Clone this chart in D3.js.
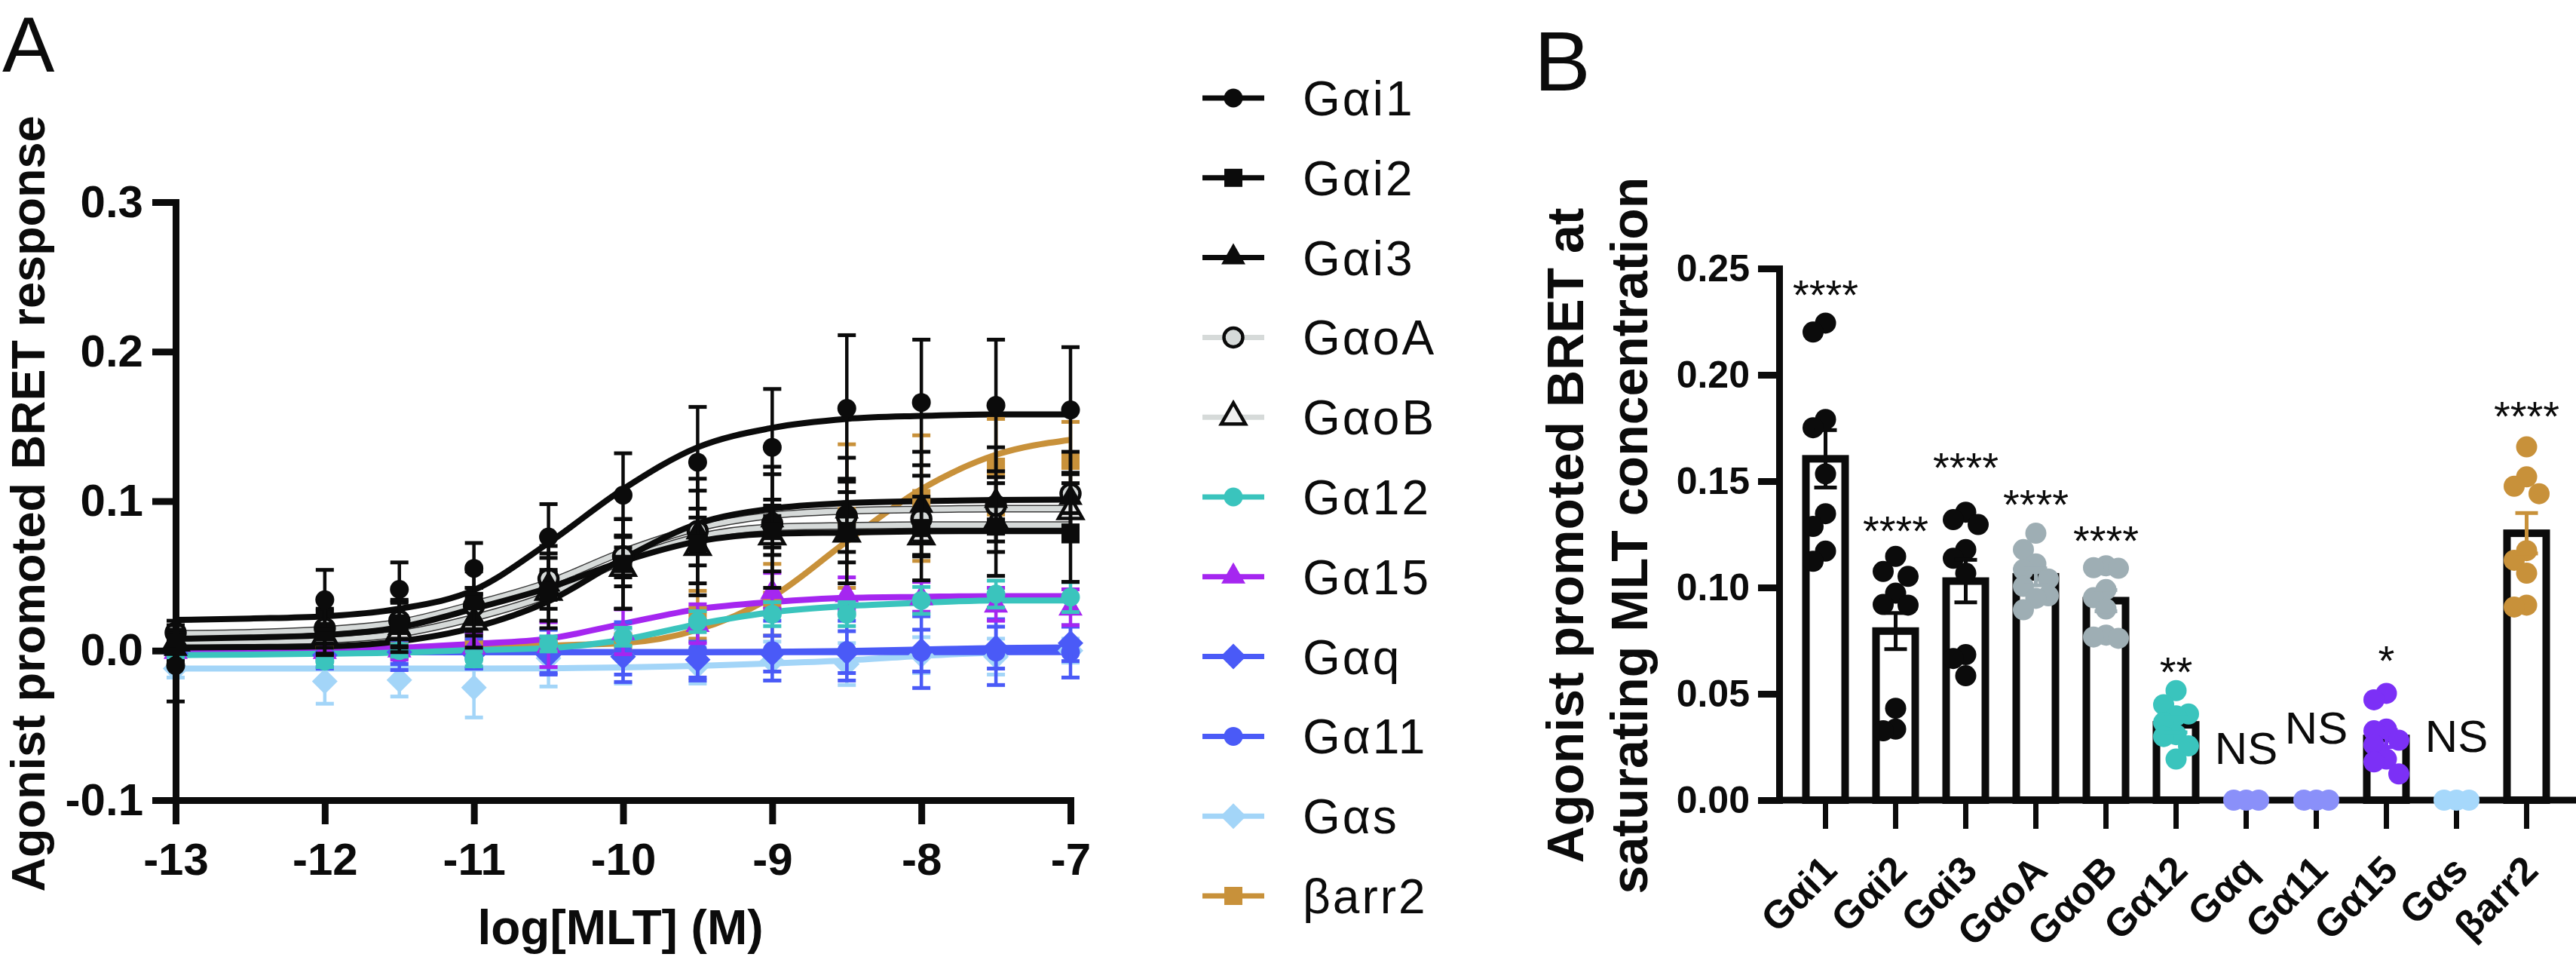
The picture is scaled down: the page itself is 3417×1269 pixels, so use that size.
<!DOCTYPE html>
<html><head><meta charset="utf-8">
<script src="https://cdn.jsdelivr.net/npm/d3@7"></script>
<style>
html,body{margin:0;padding:0;background:#fff;}
svg{display:block;}
text{font-family:"Liberation Sans", Arial, Helvetica, sans-serif; fill:#0b0b0b;}
</style></head><body>
<svg id="chart" width="3417" height="1269"></svg>
<script>
// ================= PANEL A DATA =================
const seriesNames = ["Gαi1","Gαi2","Gαi3","GαoA","GαoB","Gα12","Gα15","Gαq","Gα11","Gαs","βarr2"];
const logConc = [-13,-12,-11.5,-11,-10.5,-10,-9.5,-9,-8.5,-8,-7.5,-7];
const curveX  = [-13,-12.5,-12,-11.5,-11,-10.5,-10,-9.5,-9,-8.5,-8,-7.5,-7];
const xTickValues = [-13,-12,-11,-10,-9,-8,-7];
const yTickValuesA = [-0.1,0.0,0.1,0.2,0.3];

const meanGai1 = [-0.010,0.034,0.041,0.055,0.076,0.104,0.126,0.136,0.162,0.166,0.164,0.161];
const semGai1  = [0.024,0.020,0.018,0.017,0.022,0.028,0.037,0.039,0.049,0.042,0.044,0.042];
const fitGai1  = [0.0205,0.0215,0.023,0.028,0.0405,0.072,0.108,0.136,0.149,0.155,0.157,0.158,0.158];

const meanGai2 = [0.005,0.013,0.018,0.033,0.040,0.058,0.072,0.080,0.080,0.082,0.083,0.079];
const semGai2  = [0.012,0.015,0.016,0.020,0.025,0.030,0.035,0.038,0.035,0.035,0.033,0.033];
const fitGai2  = [0.0079,0.0088,0.0104,0.0155,0.028,0.042,0.0598,0.0731,0.0782,0.079,0.0798,0.080,0.080];

const meanGai3 = [0.002,0.012,0.016,0.022,0.045,0.058,0.080,0.088,0.094,0.098,0.101,0.103];
const semGai3  = [0.010,0.015,0.017,0.020,0.025,0.030,0.035,0.035,0.035,0.035,0.035,0.030];
const fitGai3  = [0.0021,0.0024,0.0029,0.0063,0.0155,0.033,0.0614,0.0849,0.095,0.0987,0.100,0.1008,0.101];

const meanGaoA = [0.012,0.015,0.020,0.030,0.048,0.063,0.080,0.085,0.090,0.088,0.097,0.105];
const semGaoA  = [0.008,0.010,0.012,0.012,0.014,0.014,0.015,0.016,0.016,0.015,0.015,0.013];
const fitGaoA  = [0.0113,0.012,0.014,0.0188,0.031,0.0456,0.066,0.082,0.0905,0.0935,0.0945,0.095,0.095];

const meanGaoB = [0.006,0.010,0.013,0.020,0.040,0.056,0.070,0.077,0.079,0.077,0.086,0.094];
const semGaoB  = [0.006,0.008,0.010,0.010,0.012,0.013,0.013,0.013,0.013,0.013,0.013,0.012];
const fitGaoB  = [0.0054,0.006,0.0071,0.0113,0.022,0.0372,0.060,0.076,0.0825,0.0835,0.084,0.084,0.084];

const meanGa12 = [-0.003,-0.007,0.000,-0.0055,0.0045,0.0093,0.0194,0.0244,0.0244,0.0336,0.0378,0.0358];
const semGa12  = [0.004,0.004,0.004,0.005,0.005,0.006,0.007,0.008,0.008,0.009,0.009,0.010];
const fitGa12  = [-0.003,-0.0026,-0.002,-0.0013,0.0004,0.0017,0.0073,0.0177,0.0257,0.0298,0.032,0.0336,0.0336];

const meanGa15 = [0.000,0.000,0.001,0.003,0.004,0.0126,0.018,0.040,0.038,0.036,0.031,0.029];
const semGa15  = [0.005,0.006,0.007,0.008,0.015,0.015,0.013,0.012,0.011,0.010,0.011,0.012];
const fitGa15  = [0.000,0.0005,0.001,0.002,0.0046,0.008,0.018,0.0277,0.0325,0.0353,0.036,0.0365,0.0365];

const meanGaq  = [-0.002,-0.003,-0.001,-0.002,-0.003,-0.004,-0.006,-0.002,-0.001,0.000,0.002,0.005];
const semGaq   = [0.006,0.008,0.008,0.010,0.012,0.012,0.012,0.012,0.014,0.014,0.014,0.012];
const fitGaq   = [-0.001,-0.001,-0.001,-0.001,-0.001,-0.001,-0.001,-0.001,-0.0008,-0.0002,0.0008,0.0018,0.0022];

const meanGa11 = [0.000,-0.002,-0.003,0.000,-0.001,-0.001,0.000,0.000,0.000,-0.001,-0.001,-0.001];
const semGa11  = [0.006,0.010,0.010,0.012,0.015,0.020,0.020,0.020,0.020,0.024,0.022,0.017];
const fitGa11  = [-0.001,-0.001,-0.001,-0.001,-0.001,-0.001,-0.001,-0.001,-0.001,-0.001,-0.001,-0.001,-0.001];

const meanGas  = [-0.012,-0.0205,-0.0197,-0.0247,-0.005,-0.004,-0.010,-0.007,-0.009,-0.003,-0.004,0.000];
const semGas   = [0.006,0.015,0.011,0.020,0.019,0.018,0.012,0.013,0.014,0.012,0.012,0.008];
const fitGas   = [-0.012,-0.012,-0.012,-0.012,-0.012,-0.0118,-0.0112,-0.0102,-0.0085,-0.0065,-0.0035,-0.0012,0.000];

const meanBarr2 = [0.000,0.000,0.000,0.003,0.003,0.005,0.024,0.034,0.090,0.102,0.123,0.127];
const semBarr2  = [0.003,0.003,0.003,0.004,0.005,0.006,0.016,0.024,0.048,0.042,0.032,0.026];
const fitBarr2  = [0.000,0.0003,0.0005,0.0015,0.0028,0.0035,0.005,0.014,0.036,0.073,0.108,0.131,0.141];

// ================= PANEL B DATA =================
const barCategories = ["Gαi1","Gαi2","Gαi3","GαoA","GαoB","Gα12","Gαq","Gα11","Gα15","Gαs","βarr2"];
const barMeans = [0.1605,0.0795,0.1030,0.1050,0.0938,0.0354,0,0,0.0290,0,0.1255];
const barSem   = [0.0135,0.0085,0.0100,0.0040,0.0050,0.0035,0,0,0.0040,0,0.0095];
const dotsGai1 = [0.2243,0.2201,0.1790,0.1751,0.1534,0.1347,0.1287,0.1171,0.1123];
const dotsGai2 = [0.1146,0.1075,0.1052,0.0973,0.0917,0.0920,0.0432,0.0326,0.0334];
const dotsGai3 = [0.1354,0.1319,0.1296,0.1178,0.1137,0.1067,0.0684,0.0666,0.0585];
const dotsGaoA = [0.1255,0.1178,0.1111,0.1084,0.1040,0.1005,0.0961,0.0949,0.0895];
const dotsGaoB = [0.1090,0.1102,0.1093,0.0990,0.0952,0.0899,0.0761,0.0776,0.0767];
const dotsGa12 = [0.0515,0.0449,0.0405,0.0396,0.0365,0.0308,0.0299,0.0255,0.0193];
const dotsGaq  = [0,0,0];
const dotsGa11 = [0,0,0];
const dotsGa15 = [0.0502,0.0472,0.0334,0.0326,0.0282,0.0260,0.0193,0.0180,0.0123];
const dotsGas  = [0,0,0];
const dotsBarr2 = [0.1661,0.1520,0.1476,0.1441,0.1173,0.1128,0.1067,0.0908,0.0917];
const sigLabels = ["****","****","****","****","****","**","NS","NS","*","NS","****"];
const sigLevels = [0.2309,0.1199,0.1498,0.1323,0.1154,0.0537,0.0170,0.0266,0.0590,0.0227,0.1738];
const yTickValuesB = [0,0.05,0.10,0.15,0.20,0.25];

// ================= STYLES =================
const BLACK = "#0b0b0b";
const FONT = "'Liberation Sans', Arial, Helvetica, sans-serif";
const styleA = {
  "Gαi1": {line:BLACK, outline:null, marker:"circle",   fill:BLACK, stroke:null},
  "Gαi2": {line:BLACK, outline:null, marker:"square",   fill:BLACK, stroke:null},
  "Gαi3": {line:BLACK, outline:null, marker:"triangle", fill:BLACK, stroke:null},
  "GαoA": {line:"#d6dad9", outline:"#3a3a3a", marker:"circle", fill:"#d6dad9", stroke:BLACK, err:BLACK},
  "GαoB": {line:"#d6dad9", outline:"#3a3a3a", marker:"triangle", fill:"#f0f0f0", stroke:BLACK, err:BLACK},
  "Gα12": {line:"#3ac4bd", outline:null, marker:"circle",   fill:"#3ac4bd", stroke:null},
  "Gα15": {line:"#a526f0", outline:null, marker:"triangle", fill:"#a526f0", stroke:null},
  "Gαq":  {line:"#4a5af7", outline:null, marker:"diamond",  fill:"#4a5af7", stroke:null},
  "Gα11": {line:"#4a5af7", outline:null, marker:"circle",   fill:"#4a5af7", stroke:null},
  "Gαs":  {line:"#a3d5f8", outline:null, marker:"diamond",  fill:"#a3d5f8", stroke:null},
  "βarr2":{line:"#c8913a", outline:null, marker:"square",   fill:"#c8913a", stroke:null}
};
const dotColorB = [BLACK,BLACK,BLACK,"#9eaeb4","#9eaeb4","#3ac4bd","#8a90f9","#8a90f9","#7c30f6","#a6d8fb","#c8913a"];

const means = [meanGai1,meanGai2,meanGai3,meanGaoA,meanGaoB,meanGa12,meanGa15,meanGaq,meanGa11,meanGas,meanBarr2];
const sems  = [semGai1,semGai2,semGai3,semGaoA,semGaoB,semGa12,semGa15,semGaq,semGa11,semGas,semBarr2];
const fits  = [fitGai1,fitGai2,fitGai3,fitGaoA,fitGaoB,fitGa12,fitGa15,fitGaq,fitGa11,fitGas,fitBarr2];
const seriesA = seriesNames.map((name,i)=>({
  name, style: styleA[name],
  points: logConc.map((x,j)=>({x, m: means[i][j], s: sems[i][j]})),
  curve: curveX.map((x,j)=>({x, y: fits[i][j]}))
}));
const dotsB = [dotsGai1,dotsGai2,dotsGai3,dotsGaoA,dotsGaoB,dotsGa12,dotsGaq,dotsGa11,dotsGa15,dotsGas,dotsBarr2];

const svg = d3.select("#chart");

function marker(g, type, cx, cy, fill, stroke, sw, k) {
  k = k || 1;
  let el;
  if (type === "circle") {
    el = g.append("circle").attr("cx",cx).attr("cy",cy).attr("r",12.5*k);
  } else if (type === "square") {
    el = g.append("rect").attr("x",cx-12*k).attr("y",cy-12*k).attr("width",24*k).attr("height",24*k);
  } else if (type === "triangle") {
    el = g.append("path").attr("d",`M${cx},${cy-17*k}L${cx+16*k},${cy+11*k}L${cx-16*k},${cy+11*k}Z`);
  } else {
    el = g.append("path").attr("d",`M${cx},${cy-17*k}L${cx+17*k},${cy}L${cx},${cy+17*k}L${cx-17*k},${cy}Z`);
  }
  el.attr("fill",fill).attr("stroke",stroke||"none").attr("stroke-width",stroke?sw:0);
  return el;
}

// ================= PANEL A =================
const xA = d3.scaleLinear().domain([-13,-7]).range([233,1420]);
const yA = d3.scaleLinear().domain([-0.1,0.3]).range([1061,268]);
const gA = svg.append("g");

gA.append("line").attr("x1",xA(-13)).attr("x2",xA(-7)).attr("y1",yA(0)).attr("y2",yA(0))
  .attr("stroke",BLACK).attr("stroke-width",3).attr("stroke-dasharray","3 13");

const lineGen = d3.line().x(d=>xA(d.x)).y(d=>yA(d.y)).curve(d3.curveMonotoneX);
const order = seriesA.slice().reverse();
const curvesG = gA.append("g");
order.forEach(s=>{
  if (s.style.outline) {
    curvesG.append("path").attr("d",lineGen(s.curve)).attr("fill","none")
      .attr("stroke",s.style.outline).attr("stroke-width",10);
    curvesG.append("path").attr("d",lineGen(s.curve)).attr("fill","none")
      .attr("stroke",s.style.line).attr("stroke-width",7);
  } else {
    curvesG.append("path").attr("d",lineGen(s.curve)).attr("fill","none")
      .attr("stroke",s.style.line).attr("stroke-width",8);
  }
});
order.forEach(s=>{
  const g = gA.append("g");
  const ec = s.style.err || s.style.fill;
  s.points.forEach(p=>{
    const cx = xA(p.x), yt = yA(p.m+p.s), yb = yA(p.m-p.s);
    g.append("line").attr("x1",cx).attr("x2",cx).attr("y1",yt).attr("y2",yb).attr("stroke",ec).attr("stroke-width",4.5);
    g.append("line").attr("x1",cx-12).attr("x2",cx+12).attr("y1",yt).attr("y2",yt).attr("stroke",ec).attr("stroke-width",5);
    g.append("line").attr("x1",cx-12).attr("x2",cx+12).attr("y1",yb).attr("y2",yb).attr("stroke",ec).attr("stroke-width",5);
  });
  s.points.forEach(p=>{
    marker(g, s.style.marker, xA(p.x), yA(p.m), s.style.fill, s.style.stroke, 4.5);
  });
});

const axA_y = gA.append("g").attr("transform",`translate(${xA(-13)},0)`)
  .call(d3.axisLeft(yA).tickValues(yTickValuesA).tickSize(31).tickSizeOuter(0).tickPadding(12)
     .tickFormat(d=> d===0 ? "0.0" : d.toFixed(1)));
const axA_x = gA.append("g").attr("transform",`translate(0,${yA(-0.1)})`)
  .call(d3.axisBottom(xA).tickValues(xTickValues).tickSize(32).tickSizeOuter(0).tickPadding(24)
     .tickFormat(d=>String(d)));
[axA_y, axA_x].forEach(ax=>{
  ax.select(".domain").attr("stroke",BLACK).attr("stroke-width",9).attr("stroke-linecap","square");
  ax.selectAll(".tick line").attr("stroke",BLACK).attr("stroke-width",9);
  ax.selectAll(".tick text").attr("font-size",60).attr("font-weight","bold").attr("fill",BLACK)
    .attr("font-family",FONT);
});

gA.append("text").attr("transform","translate(59,668) rotate(-90)").attr("text-anchor","middle")
  .attr("font-size",63).attr("font-weight","bold").text("Agonist promoted BRET response");
gA.append("text").attr("x",823).attr("y",1252).attr("text-anchor","middle")
  .attr("font-size",64).attr("font-weight","bold").text("log[MLT] (M)");
svg.append("text").attr("x",3).attr("y",95).attr("font-size",104).text("A");

// legend
const legG = svg.append("g");
seriesA.forEach((s,i)=>{
  const y = 130 + i*105.8;
  legG.append("line").attr("x1",1595).attr("x2",1677).attr("y1",y).attr("y2",y)
    .attr("stroke",s.style.line).attr("stroke-width",7);
  marker(legG, s.style.marker, 1636, y + (s.style.marker==="triangle"?-2:0), s.style.fill, s.style.stroke, 4.5);
  legG.append("text").attr("x",1728).attr("y",y).attr("dy","0.36em").attr("font-size",64)
    .attr("letter-spacing",3).text(s.name);
});

// ================= PANEL B =================
const xB = d3.scaleBand().domain(barCategories).range([2375,3398]);
const yB = d3.scaleLinear().domain([0,0.25]).range([1061,356]);
const cB = c => xB(c) + xB.bandwidth()/2;
const gB = svg.append("g");

barCategories.forEach((c,i)=>{
  if (barMeans[i] > 0) {
    gB.append("rect").attr("x",cB(c)-26).attr("width",52)
      .attr("y",yB(barMeans[i])).attr("height",yB(0)-yB(barMeans[i]))
      .attr("fill","#fff").attr("stroke",BLACK).attr("stroke-width",10);
  }
});

const axB_y = gB.append("g").attr("transform","translate(2360,0)")
  .call(d3.axisLeft(yB).tickValues(yTickValuesB).tickSize(28).tickSizeOuter(0).tickPadding(11)
     .tickFormat(d3.format(".2f")));
axB_y.select(".domain").attr("stroke",BLACK).attr("stroke-width",9).attr("stroke-linecap","square");
axB_y.selectAll(".tick line").attr("stroke",BLACK).attr("stroke-width",9);
axB_y.selectAll(".tick text").attr("font-size",50).attr("font-weight","bold").attr("fill",BLACK)
  .attr("font-family",FONT);

gB.append("line").attr("x1",2360).attr("x2",3417).attr("y1",yB(0)).attr("y2",yB(0))
  .attr("stroke",BLACK).attr("stroke-width",9);
const axB_x = gB.append("g").attr("transform",`translate(0,${yB(0)})`)
  .call(d3.axisBottom(xB).tickSize(38).tickSizeOuter(0));
axB_x.select(".domain").remove();
axB_x.selectAll(".tick line").attr("stroke",BLACK).attr("stroke-width",7);
axB_x.selectAll(".tick text").attr("font-size",52).attr("font-weight","bold").attr("fill",BLACK)
  .attr("font-family",FONT)
  .attr("text-anchor","end").attr("x",0).attr("y",0).attr("dy",0)
  .attr("transform","translate(18,96) rotate(-45)");

const R = 14, STEP = 16.5, MIND = 22;
barCategories.forEach((c,i)=>{
  const vals = dotsB[i].slice().sort((a,b)=>b-a);
  const placed = [];
  vals.forEach(v=>{
    const py = yB(v);
    let best = null, bestD = -1;
    for (const off of [0,-STEP,STEP]) {
      let md = Infinity;
      placed.forEach(p=>{ md = Math.min(md, Math.hypot(p.x-off, p.y-py)); });
      if (md >= MIND) { best = off; bestD = Infinity; break; }
      if (md > bestD) { bestD = md; best = off; }
    }
    placed.push({x:best, y:py});
  });
  placed.forEach(p=>{
    gB.append("circle").attr("cx",cB(c)+p.x).attr("cy",p.y).attr("r",R).attr("fill",dotColorB[i]);
  });
});

barCategories.forEach((c,i)=>{
  if (barSem[i] <= 0) return;
  const cx = cB(c), yt = yB(barMeans[i]+barSem[i]), yb = yB(barMeans[i]-barSem[i]);
  const col = dotColorB[i];
  gB.append("line").attr("x1",cx).attr("x2",cx).attr("y1",yt).attr("y2",yb).attr("stroke",col).attr("stroke-width",5);
  gB.append("line").attr("x1",cx-15).attr("x2",cx+15).attr("y1",yt).attr("y2",yt).attr("stroke",col).attr("stroke-width",5);
  gB.append("line").attr("x1",cx-15).attr("x2",cx+15).attr("y1",yb).attr("y2",yb).attr("stroke",col).attr("stroke-width",5);
});

barCategories.forEach((c,i)=>{
  gB.append("text").attr("x",cB(c)).attr("y",yB(sigLevels[i])).attr("text-anchor","middle")
    .attr("font-size", sigLabels[i]==="NS" ? 60 : 56).text(sigLabels[i]);
});

gB.append("text").attr("transform","translate(2100,710) rotate(-90)").attr("text-anchor","middle")
  .attr("font-size",68).attr("font-weight","bold").text("Agonist promoted BRET at");
gB.append("text").attr("transform","translate(2185,710) rotate(-90)").attr("text-anchor","middle")
  .attr("font-size",68).attr("font-weight","bold").text("saturating MLT concentration");
svg.append("text").attr("x",2035).attr("y",120).attr("font-size",112).text("B");
</script>
</body></html>
